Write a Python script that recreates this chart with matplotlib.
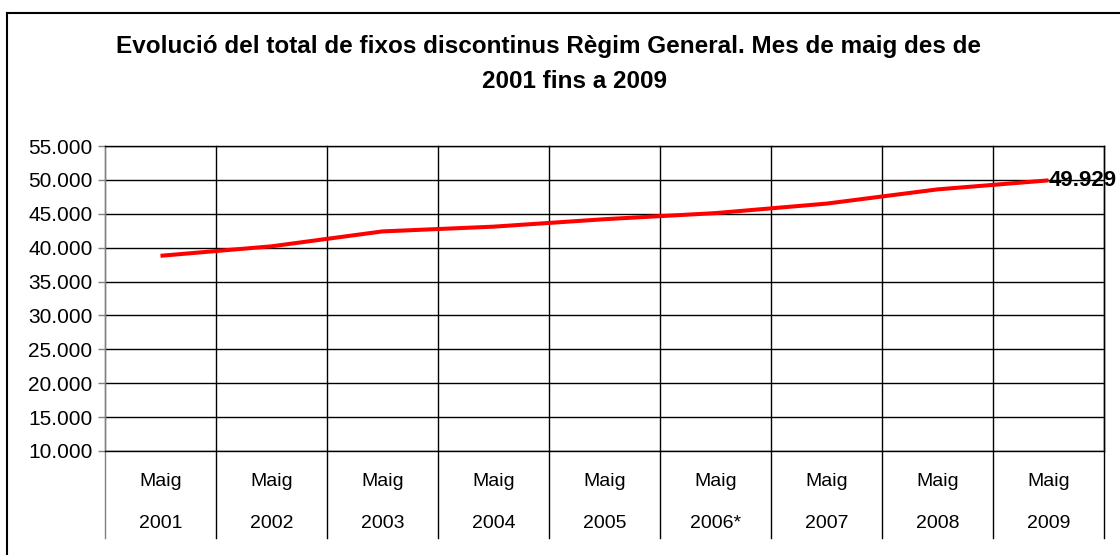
import matplotlib.pyplot as plt
from matplotlib.lines import Line2D
from matplotlib.ticker import FuncFormatter
import matplotlib.transforms as mtransforms

plt.rcParams['font.family'] = ['Liberation Sans', 'DejaVu Sans']

months = ["Maig"] * 9
years = ["2001", "2002", "2003", "2004", "2005", "2006*", "2007", "2008", "2009"]
values = [38800, 40200, 42400, 43100, 44200, 45100, 46500, 48600, 49929]
y_ticks = list(range(10000, 55001, 5000))

W, H = 1120, 555
fig = plt.figure(figsize=(W / 100, H / 100), dpi=100)

# plot area in pixel terms
left, right, top, bottom = 105, 1104, 146, 451
ax = fig.add_axes([left / W, 1 - bottom / H, (right - left) / W, (bottom - top) / H])

x = list(range(len(values)))
ax.plot(x, values, color='#ff0000', linewidth=2.9, solid_capstyle='butt', zorder=3)

ax.set_xlim(-0.5, len(values) - 0.5)
ax.set_ylim(10000, 55000)
ax.set_yticks(y_ticks)
ax.yaxis.set_major_formatter(FuncFormatter(lambda v, p: f"{int(v):,}".replace(",", ".")))
ax.tick_params(axis='y', length=5, width=1, color='#808080', labelsize=15, pad=4)
ax.set_xticks([])
ax.grid(axis='y', color='black', linewidth=1)

for s in ['top', 'bottom', 'right']:
    ax.spines[s].set_color('black')
    ax.spines[s].set_linewidth(1)
ax.spines['left'].set_color('#808080')
ax.spines['left'].set_linewidth(1)

# category separators reaching down into the label area
trans = mtransforms.blended_transform_factory(ax.transData, ax.transAxes)
drop = (538 - bottom) / (bottom - top)
for i in range(len(values) + 1):
    xs = i - 0.5
    col = '#808080' if i == 0 else 'black'
    ax.add_line(Line2D([xs, xs], [-drop, 1], transform=trans, color=col,
                       linewidth=1, clip_on=False, zorder=1))

for i in range(len(values)):
    ax.text(i, -(481 - bottom) / (bottom - top), months[i], transform=trans,
            ha='center', va='center', fontsize=14)
    ax.text(i, -(524 - bottom) / (bottom - top), years[i], transform=trans,
            ha='center', va='center', fontsize=14)

ax.text(x[-1], values[-1], f"{values[-1]:,}".replace(",", "."), ha='left', va='center',
        fontsize=16, fontweight='bold', clip_on=False, zorder=4)

fig.text(549 / W, 1 - 47 / H,
         "Evolució del total de fixos discontinus Règim General. Mes de maig des de",
         ha='center', va='center', fontsize=17.5, fontweight='bold')
fig.text(575 / W, 1 - 82 / H, "2001 fins a 2009",
         ha='center', va='center', fontsize=17.5, fontweight='bold')

# chart area frame (only the left and top edges are visible)
fig.add_artist(Line2D([7 / W, 7 / W], [0, 1 - 13 / H], transform=fig.transFigure,
                      color='black', linewidth=1.5))
fig.add_artist(Line2D([7 / W, 1], [1 - 13 / H, 1 - 13 / H], transform=fig.transFigure,
                      color='black', linewidth=1.5))

fig.savefig("out.png", dpi=100)
